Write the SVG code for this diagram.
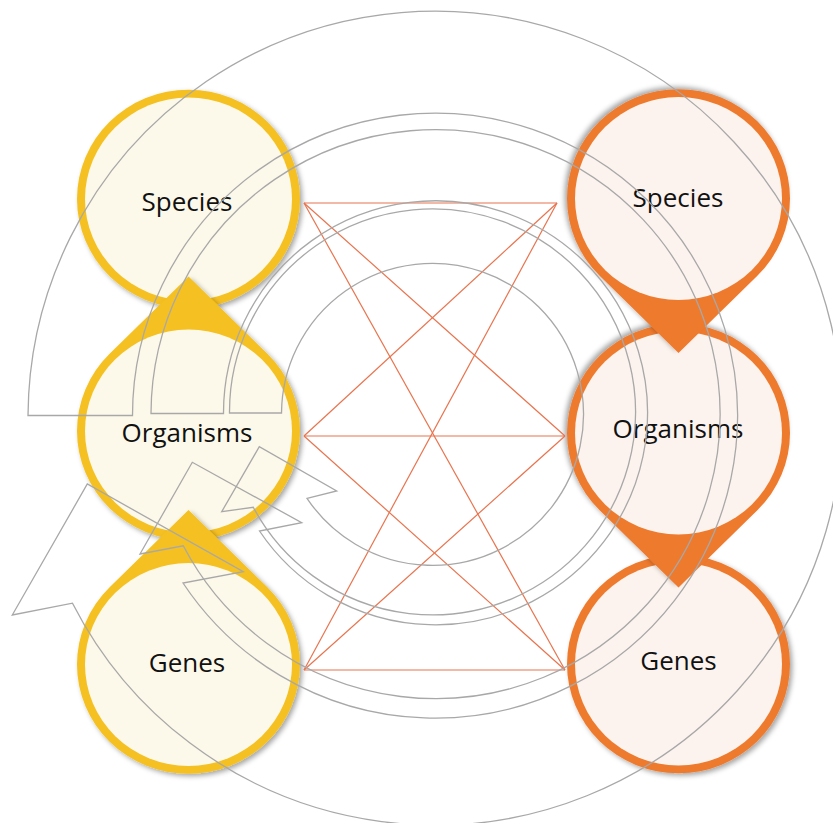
<svg xmlns="http://www.w3.org/2000/svg" width="833" height="823" viewBox="0 0 833 823">
<style>
.gold{fill:#F5C020}
.orng{fill:#EE7A2E}
.cream{fill:#FCF9EA}
.peach{fill:#FCF3EE}
.lbl{font-family:"Open Sans","Noto Sans","Liberation Sans",sans-serif;font-size:26px;fill:#111;text-anchor:middle}
.red{stroke:#E8744E;stroke-width:1.2;fill:none}
.arr{stroke:#A8A8A8;stroke-width:1.3;fill:none;stroke-linejoin:miter}
</style>
<defs>
<filter id="sh" x="-20%" y="-20%" width="140%" height="140%">
<feDropShadow dx="2.5" dy="2.5" stdDeviation="2.5" flood-color="#000" flood-opacity="0.35"/>
</filter>
<path id="drop" d="M0,-157.68 L78.84,-78.84 A111.5 111.5 0 1 1 -78.84,-78.84 Z"/>
</defs>
<rect width="833" height="823" fill="#fff"/>

<g id="left-species">
<g transform="translate(188.5,199) scale(1,0.98)" filter="url(#sh)">
<circle r="111.5" class="gold"/>
<circle r="103.5" class="cream"/>
</g>
<text x="187" y="210.5" class="lbl">Species</text>
</g>
<g id="left-organisms">
<g transform="translate(188.5,431) scale(1,0.98)" filter="url(#sh)">
<use href="#drop" class="gold"/>
<circle r="103.5" class="cream"/>
</g>
<text x="187" y="441.5" class="lbl">Organisms</text>
</g>
<g id="left-genes">
<g transform="translate(188.5,664.5) scale(1,0.98)" filter="url(#sh)">
<use href="#drop" class="gold"/>
<circle r="103.5" class="cream"/>
</g>
<text x="187" y="671.5" class="lbl">Genes</text>
</g>

<g id="right-genes">
<g transform="translate(678.5,664) scale(1,0.98)" filter="url(#sh)">
<circle r="111.5" class="orng"/>
<circle r="103.5" class="peach"/>
</g>
<text x="678.5" y="670" class="lbl">Genes</text>
</g>
<g id="right-organisms">
<g transform="translate(678.5,433) scale(1,0.98) rotate(180)" filter="url(#sh)">
<use href="#drop" class="orng"/>
<circle r="103.5" class="peach"/>
</g>
<text x="678" y="438" class="lbl">Organisms</text>
</g>
<g id="right-species">
<g transform="translate(678.5,198.5) scale(1,0.98) rotate(180)" filter="url(#sh)">
<use href="#drop" class="orng"/>
<circle r="103.5" class="peach"/>
</g>
<text x="678" y="207" class="lbl">Species</text>
</g>

<g id="connectors">
<g id="links">
<line class="red" x1="304" y1="203" x2="557" y2="203"/>
<line class="red" x1="304" y1="203" x2="565" y2="436"/>
<line class="red" x1="304" y1="203" x2="565" y2="670"/>
<line class="red" x1="304" y1="436" x2="557" y2="203"/>
<line class="red" x1="304" y1="436" x2="565" y2="436"/>
<line class="red" x1="304" y1="436" x2="565" y2="670"/>
<line class="red" x1="304" y1="670" x2="557" y2="203"/>
<line class="red" x1="304" y1="670" x2="565" y2="436"/>
<line class="red" x1="304" y1="670" x2="565" y2="670"/>
</g>
<g id="cycles">
<path class="arr" d="M28,415.5 A407 407 0 1 1 72.5,603.2 L12.3,615 L87.3,484 L243.3,571.7 L183,583 A302.5 302.5 0 1 0 132.5,415.5 Z"/>
<path class="arr" d="M151,413.5 A284.5 284.5 0 1 1 183.3,545.8 L140,554 L192.3,462.3 L301.7,522.7 L259.5,531 A212 212 0 1 0 223.5,413.5 Z"/>
<path class="arr" d="M229.5,413 A203 203 0 1 1 253.3,507.3 L221.7,511.7 L259.3,446.7 L336.7,491 L307,498.3 A151 151 0 1 0 281.5,413 Z"/>
</g>
</g>
</svg>
